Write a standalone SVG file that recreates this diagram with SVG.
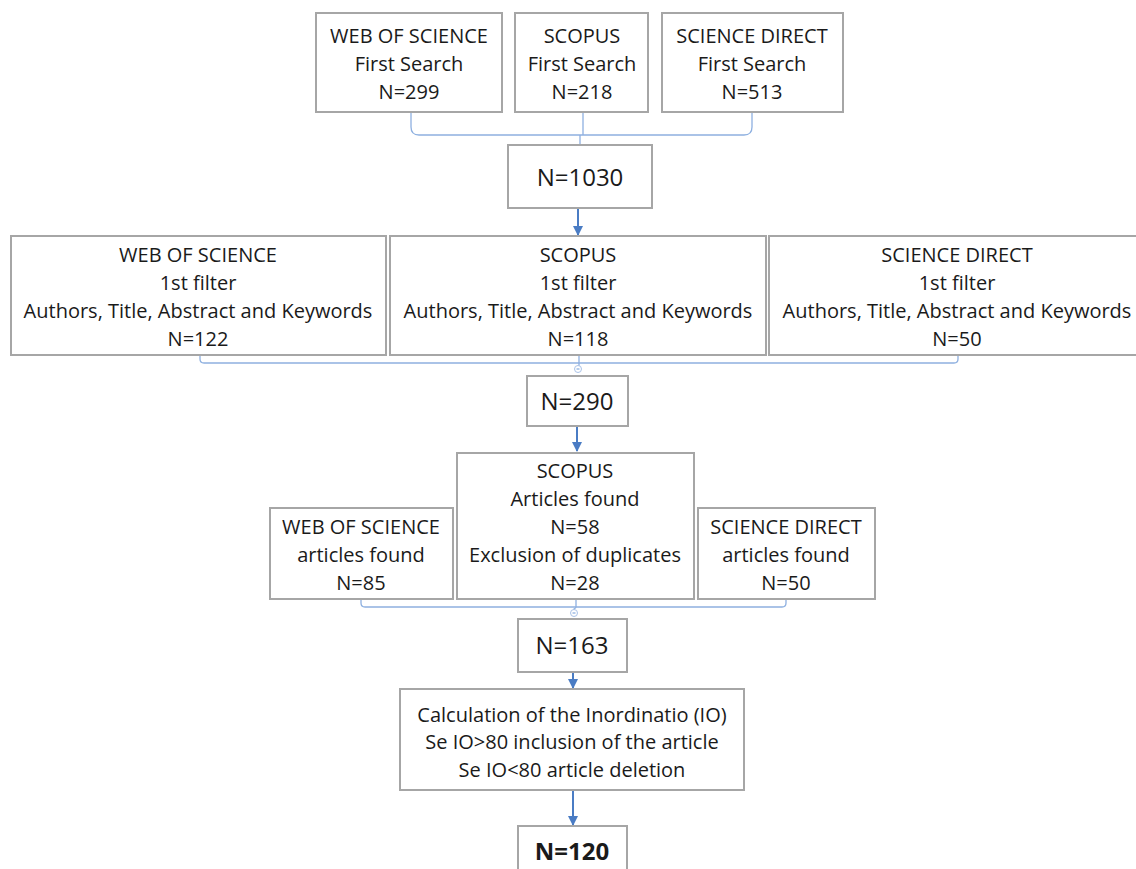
<svg xmlns="http://www.w3.org/2000/svg" width="1136" height="869" viewBox="0 0 1136 869">
<style>
.box{fill:#fff;stroke:#a6a6a6;stroke-width:2}
.t{font-family:"Open Sans","Noto Sans",sans-serif;font-size:20px;fill:#1a1a1a;text-anchor:middle}
.big{font-size:24px}
.conn{fill:none;stroke:#8eb0e0;stroke-width:1.3}
.arr{fill:none;stroke:#4a7cc4;stroke-width:2}
.knob{fill:#fff;stroke:#a9c2e8;stroke-width:1}
</style>
<defs>
<marker id="ah" markerWidth="10" markerHeight="10" refX="9" refY="5" orient="auto" markerUnits="userSpaceOnUse">
<path d="M0,0 L10,5 L0,10 z" fill="#4a7cc4"/>
</marker>
</defs>
<rect width="1136" height="869" fill="#fff"/>
<g id="connectors">
<path class="conn" d="M411,113 V127 Q411,135 419,135 H744 Q752,135 752,127 V113"/>
<path class="conn" d="M583,113 V135 M580,135 V145"/>
<path class="arr" d="M578,209 V235" marker-end="url(#ah)"/>
<path class="conn" d="M200,355 V359 Q200,363 204,363 H954 Q958,363 958,359 V355"/>
<path class="conn" d="M579,355 V366"/>
<circle class="knob" cx="578" cy="369" r="3.5"/>
<path class="conn" d="M576.5,369 H579.5"/>
<path class="arr" d="M577,426 V451" marker-end="url(#ah)"/>
<path class="conn" d="M361,599 V603 Q361,607 365,607 H782 Q786,607 786,603 V599"/>
<path class="conn" d="M576,599 V607 Q576,608 574,609 V610"/>
<circle class="knob" cx="574" cy="613" r="3.5"/>
<path class="conn" d="M572.5,613 H575.5"/>
<path class="arr" d="M573,672 V688" marker-end="url(#ah)"/>
<path class="arr" d="M573,791 V825" marker-end="url(#ah)"/>
</g>
<g id="wos1"><rect class="box" x="316" y="13" width="186" height="99"/>
<text class="t" x="409" y="43">WEB OF SCIENCE</text><text class="t" x="409" y="71">First Search</text><text class="t" x="409" y="99">N=299</text></g>
<g id="scopus1"><rect class="box" x="515" y="13" width="133" height="99"/>
<text class="t" x="582" y="43">SCOPUS</text><text class="t" x="582" y="71">First Search</text><text class="t" x="582" y="99">N=218</text></g>
<g id="sd1"><rect class="box" x="662" y="13" width="181" height="99"/>
<text class="t" x="752" y="43">SCIENCE DIRECT</text><text class="t" x="752" y="71">First Search</text><text class="t" x="752" y="99">N=513</text></g>
<g id="n1030"><rect class="box" x="508" y="145" width="144" height="63"/>
<text class="t big" x="580" y="186">N=1030</text></g>
<g id="wos2"><rect class="box" x="11" y="236" width="375" height="119"/>
<text class="t" x="198" y="262">WEB OF SCIENCE</text><text class="t" x="198" y="290">1st filter</text><text class="t" x="198" y="318">Authors, Title, Abstract and Keywords</text><text class="t" x="198" y="346">N=122</text></g>
<g id="scopus2"><rect class="box" x="390" y="236" width="376" height="119"/>
<text class="t" x="578" y="262">SCOPUS</text><text class="t" x="578" y="290">1st filter</text><text class="t" x="578" y="318">Authors, Title, Abstract and Keywords</text><text class="t" x="578" y="346">N=118</text></g>
<g id="sd2"><rect class="box" x="769" y="236" width="376" height="119"/>
<text class="t" x="957" y="262">SCIENCE DIRECT</text><text class="t" x="957" y="290">1st filter</text><text class="t" x="957" y="318">Authors, Title, Abstract and Keywords</text><text class="t" x="957" y="346">N=50</text></g>
<g id="n290"><rect class="box" x="527" y="376" width="101" height="50"/>
<text class="t big" x="577" y="410">N=290</text></g>
<g id="scopus3"><rect class="box" x="457" y="453" width="237" height="146"/>
<text class="t" x="575" y="478">SCOPUS</text><text class="t" x="575" y="506">Articles found</text><text class="t" x="575" y="534">N=58</text><text class="t" x="575" y="562">Exclusion of duplicates</text><text class="t" x="575" y="590">N=28</text></g>
<g id="wos3"><rect class="box" x="270" y="508" width="183" height="91"/>
<text class="t" x="361" y="534">WEB OF SCIENCE</text><text class="t" x="361" y="562">articles found</text><text class="t" x="361" y="590">N=85</text></g>
<g id="sd3"><rect class="box" x="698" y="508" width="177" height="91"/>
<text class="t" x="786" y="534">SCIENCE DIRECT</text><text class="t" x="786" y="562">articles found</text><text class="t" x="786" y="590">N=50</text></g>
<g id="n163"><rect class="box" x="518" y="619" width="109" height="53"/>
<text class="t big" x="572" y="654">N=163</text></g>
<g id="io"><rect class="box" x="400" y="689" width="344" height="101"/>
<text class="t" x="572" y="722">Calculation of the Inordinatio (IO)</text><text class="t" x="572" y="749">Se IO&gt;80 inclusion of the article</text><text class="t" x="572" y="777">Se IO&lt;80 article deletion</text></g>
<g id="n120"><rect class="box" x="518" y="826" width="109" height="60"/>
<text class="t big" x="572" y="860" font-weight="bold">N=120</text></g>
</svg>
